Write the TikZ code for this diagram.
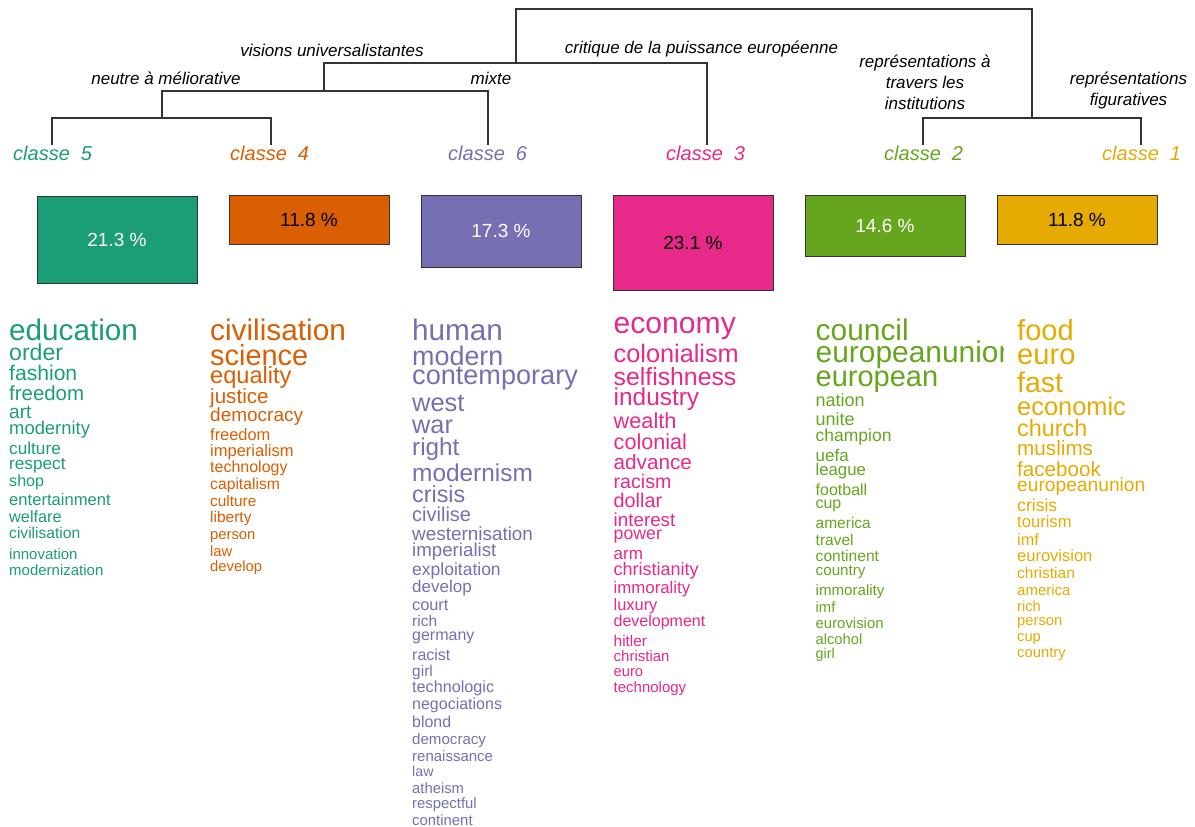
\documentclass[tikz,border=0pt]{standalone}
\usepackage{fontspec}
\setmainfont{Liberation Sans}
\definecolor{cfive}{HTML}{1B9E77}
\definecolor{cfour}{HTML}{D95F02}
\definecolor{csix}{HTML}{7570B3}
\definecolor{cthree}{HTML}{E7298A}
\definecolor{ctwo}{HTML}{66A61E}
\definecolor{cone}{HTML}{E6AB02}
\definecolor{dline}{HTML}{333333}
\tikzset{
  dendro/.style={draw=dline, line width=1.2pt},
  pbox/.style={draw=dline, line width=1pt, minimum width=160pt, inner sep=0pt, font=\fontsize{19}{19}\selectfont},
  cls/.style={font=\fontsize{20}{20}\selectfont\itshape, anchor=base west, inner sep=0pt},
  lab/.style={font=\fontsize{17}{17}\selectfont\itshape, anchor=base, inner sep=0pt},
  word/.style={anchor=base west, inner sep=0pt},
}
\begin{document}
\begin{tikzpicture}[x=1pt,y=-1pt]
\useasboundingbox (0,0) rectangle (1195,827);
\fill[white] (0,0) rectangle (1195,827);

% dendrogram
\coordinate (t5) at (52,145);
\coordinate (t4) at (271,145);
\coordinate (t6) at (488,145);
\coordinate (t3) at (707,145);
\coordinate (t2) at (923,145);
\coordinate (t1) at (1141,145);
\coordinate (j54) at (162,118);
\coordinate (j546) at (324,91);
\coordinate (j5463) at (516,63);
\coordinate (j21) at (1032,118);
\coordinate (root) at (774,9);
\draw[dendro] (t5) |- (j54) -| (t4);
\draw[dendro] (j54) |- (j546) -| (t6);
\draw[dendro] (j546) |- (j5463) -| (t3);
\draw[dendro] (t2) |- (j21) -| (t1);
\draw[dendro] (j5463) |- (root) -| (j21);

% branch labels
\node[lab] (lvis) at (332,56.5) {visions universalistantes};
\node[lab] (lneu) at (166,84.5) {neutre à méliorative};
\node[lab] (lmix) at (491,84.5) {mixte};
\node[lab] (lcri) at (701.5,53) {critique de la puissance européenne};
\node[lab] (linsa) at (925,67) {représentations à};
\node[lab] (linsb) at (925,88) {travers les};
\node[lab] (linsc) at (925,109) {institutions};
\node[lab] (lfiga) at (1128.5,84) {représentations};
\node[lab] (lfigb) at (1128.5,105.5) {figuratives};

% class labels
\node[cls, text=cfive] (c5) at (13,160) {classe~~5};
\node[cls, text=cfour] (c4) at (230,160) {classe~~4};
\node[cls, text=csix] (c6) at (448,160) {classe~~6};
\node[cls, text=cthree] (c3) at (666,160) {classe~~3};
\node[cls, text=ctwo] (c2) at (884,160) {classe~~2};
\node[cls, text=cone] (c1) at (1102,160) {classe~~1};

% percentage boxes
\node[pbox, fill=cfive, text=white, minimum height=87pt] (b5) at (117,239.5) {21.3 \%};
\node[pbox, fill=cfour, text=black, minimum height=49pt] (b4) at (309,219.5) {11.8 \%};
\node[pbox, fill=csix, text=white, minimum height=72pt] (b6) at (501,231) {17.3 \%};
\node[pbox, fill=cthree, text=black, minimum height=95pt] (b3) at (693,242.5) {23.1 \%};
\node[pbox, fill=ctwo, text=white, minimum height=61pt] (b2) at (885,225.5) {14.6 \%};
\node[pbox, fill=cone, text=black, minimum height=49pt] (b1) at (1077,219.5) {11.8 \%};

% word columns
\foreach \s/\y/\w [count=\i] in {29.7/340/education, 23.1/360/order, 21.1/380.5/fashion, 20.4/400.5/freedom, 19.1/418/art, 18.4/434/modernity, 17.2/454/culture, 17.2/469.5/respect, 16.1/486.5/shop, 16.6/505/entertainment, 16.3/522.5/welfare, 15.6/538.5/civilisation, 15/559/innovation, 15/575/modernization}
  \node[word, text=cfive, font=\fontsize{\s}{\s}\selectfont] (wa\i) at (9,\y) {\w};

\foreach \s/\y/\w [count=\i] in {29.8/340/civilisation, 28.9/365/science, 23.6/383.5/equality, 20.6/403.5/justice, 19/421.5/democracy, 16.4/440/freedom, 16.5/456/imperialism, 16/472.5/technology, 15.7/489/capitalism, 15.4/506.5/culture, 15.5/522.5/liberty, 14.8/539/person, 14.7/556.5/law, 14.8/571/develop}
  \node[word, text=cfour, font=\fontsize{\s}{\s}\selectfont] (wb\i) at (210,\y) {\w};

\foreach \s/\y/\w [count=\i] in {29.7/340.5/human, 26.9/365/modern, 27.1/384/contemporary, 25.4/411.5/west, 25.3/433.5/war, 24.3/455.5/right, 24.4/481/modernism, 23.3/502.5/crisis, 20/521.5/civilise, 18.9/540/westernisation, 18.7/556/imperialist, 17.5/575/exploitation, 17/592.5/develop, 16.3/610/court, 15.5/626.5/rich, 16/640/germany, 16/660.5/racist, 15.5/676.5/girl, 16.2/692.5/technologic, 16/709/negociations, 15.9/727.5/blond, 15.1/744/democracy, 15/761.5/renaissance, 14.2/776.5/law, 14.8/793/atheism, 14.9/808/respectful, 14.9/825/continent}
  \node[word, text=csix, font=\fontsize{\s}{\s}\selectfont] (wc\i) at (412,\y) {\w};

\foreach \s/\y/\w [count=\i] in {30.1/333.5/economy, 25.3/362/colonialism, 24.8/385.5/selfishness, 24.4/405/industry, 21.7/428/wealth, 21.6/449/colonial, 20.7/469/advance, 19.6/488/racism, 19.8/507.5/dollar, 18.8/526/interest, 17.7/539.5/power, 17/559/arm, 18/575.5/christianity, 16.8/593/immorality, 16.4/610/luxury, 16/626.5/development, 15.4/646.5/hitler, 15/661.5/christian, 14.7/676.5/euro, 15/692/technology}
  \node[word, text=cthree, font=\fontsize{\s}{\s}\selectfont] (wd\i) at (613.5,\y) {\w};

\begin{scope}
\clip (800,300) rectangle (1003,700);
\foreach \s/\y/\w [count=\i] in {29.9/340.5/council, 29.9/362/europeanunion, 29/386.5/european, 18/406.5/nation, 18/425.5/unite, 17.5/441.5/champion, 17/461/uefa, 16.7/475.5/league, 16/495/football, 15.9/508.5/cup, 15.5/528/america, 15.5/545/travel, 15.6/561/continent, 15.2/575/country, 15.1/595/immorality, 14.8/612/imf, 14.9/628/eurovision, 14.7/644/alcohol, 14.3/658.5/girl}
  \node[word, text=ctwo, font=\fontsize{\s}{\s}\selectfont] (we\i) at (815.5,\y) {\w};
\end{scope}

\foreach \s/\y/\w [count=\i] in {29.1/340.5/food, 29.1/364.5/euro, 28.5/392/fast, 25.4/415/economic, 23.4/436.5/church, 20.7/455.5/muslims, 20.6/476/facebook, 19.2/491.5/europeanunion, 17.6/511/crisis, 16.6/527.5/tourism, 16.3/545/imf, 16.5/561.5/eurovision, 15.5/578/christian, 15/595.5/america, 14.7/611.5/rich, 14.8/625/person, 14.7/641/cup, 14.8/657.5/country}
  \node[word, text=cone, font=\fontsize{\s}{\s}\selectfont] (wf\i) at (1017,\y) {\w};
\end{tikzpicture}
\end{document}
